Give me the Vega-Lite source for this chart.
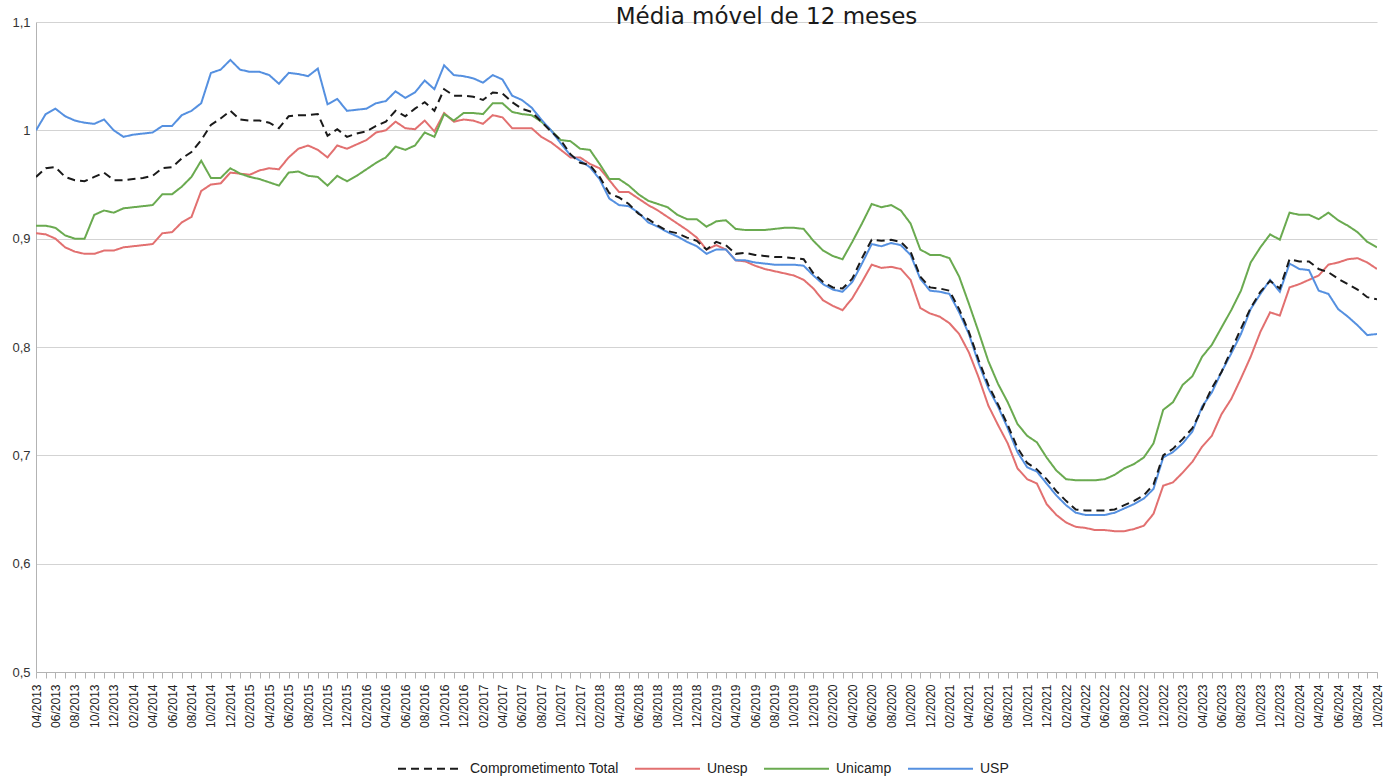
{
"$schema":"https://vega.github.io/schema/vega-lite/v6.json",
"width":1341,"height":650,
"autosize":{"type":"none"},
"padding":{"left":36,"top":22,"right":7,"bottom":106},
"background":"white",
"title":{"text":"Média móvel de 12 meses","font":"DejaVu Sans","fontSize":23,"fontWeight":"normal","color":"#1a1a1a","anchor":"middle","offset":0,"baseline":"alphabetic","dx":60,"dy":31},
"config":{"view":{"stroke":null}},
"data":{"values":[
{"m":"04/2013","Comprometimento Total":0.957,"Unesp":0.905,"Unicamp":0.912,"USP":1.000},
{"m":"05/2013","Comprometimento Total":0.965,"Unesp":0.904,"Unicamp":0.912,"USP":1.015},
{"m":"06/2013","Comprometimento Total":0.966,"Unesp":0.900,"Unicamp":0.910,"USP":1.020},
{"m":"07/2013","Comprometimento Total":0.957,"Unesp":0.892,"Unicamp":0.903,"USP":1.013},
{"m":"08/2013","Comprometimento Total":0.954,"Unesp":0.888,"Unicamp":0.900,"USP":1.009},
{"m":"09/2013","Comprometimento Total":0.953,"Unesp":0.886,"Unicamp":0.900,"USP":1.007},
{"m":"10/2013","Comprometimento Total":0.957,"Unesp":0.886,"Unicamp":0.922,"USP":1.006},
{"m":"11/2013","Comprometimento Total":0.961,"Unesp":0.889,"Unicamp":0.926,"USP":1.010},
{"m":"12/2013","Comprometimento Total":0.954,"Unesp":0.889,"Unicamp":0.924,"USP":1.000},
{"m":"01/2014","Comprometimento Total":0.954,"Unesp":0.892,"Unicamp":0.928,"USP":0.994},
{"m":"02/2014","Comprometimento Total":0.955,"Unesp":0.893,"Unicamp":0.929,"USP":0.996},
{"m":"03/2014","Comprometimento Total":0.956,"Unesp":0.894,"Unicamp":0.930,"USP":0.997},
{"m":"04/2014","Comprometimento Total":0.958,"Unesp":0.895,"Unicamp":0.931,"USP":0.998},
{"m":"05/2014","Comprometimento Total":0.965,"Unesp":0.905,"Unicamp":0.941,"USP":1.004},
{"m":"06/2014","Comprometimento Total":0.966,"Unesp":0.906,"Unicamp":0.941,"USP":1.004},
{"m":"07/2014","Comprometimento Total":0.974,"Unesp":0.915,"Unicamp":0.948,"USP":1.014},
{"m":"08/2014","Comprometimento Total":0.980,"Unesp":0.920,"Unicamp":0.957,"USP":1.018},
{"m":"09/2014","Comprometimento Total":0.991,"Unesp":0.944,"Unicamp":0.972,"USP":1.025},
{"m":"10/2014","Comprometimento Total":1.005,"Unesp":0.950,"Unicamp":0.956,"USP":1.053},
{"m":"11/2014","Comprometimento Total":1.011,"Unesp":0.951,"Unicamp":0.956,"USP":1.056},
{"m":"12/2014","Comprometimento Total":1.018,"Unesp":0.961,"Unicamp":0.965,"USP":1.065},
{"m":"01/2015","Comprometimento Total":1.010,"Unesp":0.960,"Unicamp":0.960,"USP":1.056},
{"m":"02/2015","Comprometimento Total":1.009,"Unesp":0.959,"Unicamp":0.957,"USP":1.054},
{"m":"03/2015","Comprometimento Total":1.009,"Unesp":0.963,"Unicamp":0.955,"USP":1.054},
{"m":"04/2015","Comprometimento Total":1.007,"Unesp":0.965,"Unicamp":0.952,"USP":1.051},
{"m":"05/2015","Comprometimento Total":1.002,"Unesp":0.964,"Unicamp":0.949,"USP":1.043},
{"m":"06/2015","Comprometimento Total":1.013,"Unesp":0.975,"Unicamp":0.961,"USP":1.053},
{"m":"07/2015","Comprometimento Total":1.014,"Unesp":0.983,"Unicamp":0.962,"USP":1.052},
{"m":"08/2015","Comprometimento Total":1.014,"Unesp":0.986,"Unicamp":0.958,"USP":1.050},
{"m":"09/2015","Comprometimento Total":1.015,"Unesp":0.982,"Unicamp":0.957,"USP":1.057},
{"m":"10/2015","Comprometimento Total":0.995,"Unesp":0.975,"Unicamp":0.949,"USP":1.024},
{"m":"11/2015","Comprometimento Total":1.001,"Unesp":0.986,"Unicamp":0.958,"USP":1.029},
{"m":"12/2015","Comprometimento Total":0.994,"Unesp":0.983,"Unicamp":0.953,"USP":1.018},
{"m":"01/2016","Comprometimento Total":0.997,"Unesp":0.987,"Unicamp":0.958,"USP":1.019},
{"m":"02/2016","Comprometimento Total":0.999,"Unesp":0.991,"Unicamp":0.964,"USP":1.020},
{"m":"03/2016","Comprometimento Total":1.004,"Unesp":0.998,"Unicamp":0.970,"USP":1.025},
{"m":"04/2016","Comprometimento Total":1.008,"Unesp":1.000,"Unicamp":0.975,"USP":1.027},
{"m":"05/2016","Comprometimento Total":1.018,"Unesp":1.008,"Unicamp":0.985,"USP":1.036},
{"m":"06/2016","Comprometimento Total":1.013,"Unesp":1.002,"Unicamp":0.982,"USP":1.030},
{"m":"07/2016","Comprometimento Total":1.020,"Unesp":1.001,"Unicamp":0.986,"USP":1.035},
{"m":"08/2016","Comprometimento Total":1.026,"Unesp":1.009,"Unicamp":0.998,"USP":1.046},
{"m":"09/2016","Comprometimento Total":1.018,"Unesp":0.999,"Unicamp":0.994,"USP":1.038},
{"m":"10/2016","Comprometimento Total":1.038,"Unesp":1.016,"Unicamp":1.015,"USP":1.060},
{"m":"11/2016","Comprometimento Total":1.032,"Unesp":1.008,"Unicamp":1.009,"USP":1.051},
{"m":"12/2016","Comprometimento Total":1.032,"Unesp":1.010,"Unicamp":1.016,"USP":1.050},
{"m":"01/2017","Comprometimento Total":1.031,"Unesp":1.009,"Unicamp":1.016,"USP":1.048},
{"m":"02/2017","Comprometimento Total":1.028,"Unesp":1.006,"Unicamp":1.015,"USP":1.044},
{"m":"03/2017","Comprometimento Total":1.035,"Unesp":1.014,"Unicamp":1.025,"USP":1.051},
{"m":"04/2017","Comprometimento Total":1.034,"Unesp":1.012,"Unicamp":1.025,"USP":1.047},
{"m":"05/2017","Comprometimento Total":1.026,"Unesp":1.002,"Unicamp":1.017,"USP":1.032},
{"m":"06/2017","Comprometimento Total":1.020,"Unesp":1.002,"Unicamp":1.015,"USP":1.028},
{"m":"07/2017","Comprometimento Total":1.017,"Unesp":1.002,"Unicamp":1.014,"USP":1.021},
{"m":"08/2017","Comprometimento Total":1.008,"Unesp":0.994,"Unicamp":1.008,"USP":1.010},
{"m":"09/2017","Comprometimento Total":0.999,"Unesp":0.989,"Unicamp":1.000,"USP":1.000},
{"m":"10/2017","Comprometimento Total":0.991,"Unesp":0.982,"Unicamp":0.991,"USP":0.988},
{"m":"11/2017","Comprometimento Total":0.978,"Unesp":0.975,"Unicamp":0.990,"USP":0.977},
{"m":"12/2017","Comprometimento Total":0.970,"Unesp":0.975,"Unicamp":0.983,"USP":0.972},
{"m":"01/2018","Comprometimento Total":0.968,"Unesp":0.969,"Unicamp":0.982,"USP":0.966},
{"m":"02/2018","Comprometimento Total":0.957,"Unesp":0.965,"Unicamp":0.969,"USP":0.955},
{"m":"03/2018","Comprometimento Total":0.942,"Unesp":0.954,"Unicamp":0.955,"USP":0.937},
{"m":"04/2018","Comprometimento Total":0.938,"Unesp":0.943,"Unicamp":0.955,"USP":0.931},
{"m":"05/2018","Comprometimento Total":0.932,"Unesp":0.943,"Unicamp":0.949,"USP":0.930},
{"m":"06/2018","Comprometimento Total":0.923,"Unesp":0.937,"Unicamp":0.941,"USP":0.924},
{"m":"07/2018","Comprometimento Total":0.918,"Unesp":0.931,"Unicamp":0.935,"USP":0.915},
{"m":"08/2018","Comprometimento Total":0.912,"Unesp":0.926,"Unicamp":0.932,"USP":0.911},
{"m":"09/2018","Comprometimento Total":0.907,"Unesp":0.920,"Unicamp":0.929,"USP":0.906},
{"m":"10/2018","Comprometimento Total":0.905,"Unesp":0.914,"Unicamp":0.922,"USP":0.902},
{"m":"11/2018","Comprometimento Total":0.901,"Unesp":0.908,"Unicamp":0.918,"USP":0.897},
{"m":"12/2018","Comprometimento Total":0.898,"Unesp":0.901,"Unicamp":0.918,"USP":0.893},
{"m":"01/2019","Comprometimento Total":0.890,"Unesp":0.890,"Unicamp":0.911,"USP":0.886},
{"m":"02/2019","Comprometimento Total":0.897,"Unesp":0.894,"Unicamp":0.916,"USP":0.890},
{"m":"03/2019","Comprometimento Total":0.894,"Unesp":0.890,"Unicamp":0.917,"USP":0.890},
{"m":"04/2019","Comprometimento Total":0.886,"Unesp":0.880,"Unicamp":0.909,"USP":0.880},
{"m":"05/2019","Comprometimento Total":0.887,"Unesp":0.879,"Unicamp":0.908,"USP":0.880},
{"m":"06/2019","Comprometimento Total":0.885,"Unesp":0.875,"Unicamp":0.908,"USP":0.878},
{"m":"07/2019","Comprometimento Total":0.884,"Unesp":0.872,"Unicamp":0.908,"USP":0.877},
{"m":"08/2019","Comprometimento Total":0.883,"Unesp":0.870,"Unicamp":0.909,"USP":0.876},
{"m":"09/2019","Comprometimento Total":0.883,"Unesp":0.868,"Unicamp":0.910,"USP":0.876},
{"m":"10/2019","Comprometimento Total":0.882,"Unesp":0.866,"Unicamp":0.910,"USP":0.876},
{"m":"11/2019","Comprometimento Total":0.881,"Unesp":0.862,"Unicamp":0.909,"USP":0.875},
{"m":"12/2019","Comprometimento Total":0.868,"Unesp":0.854,"Unicamp":0.898,"USP":0.866},
{"m":"01/2020","Comprometimento Total":0.860,"Unesp":0.843,"Unicamp":0.889,"USP":0.858},
{"m":"02/2020","Comprometimento Total":0.855,"Unesp":0.838,"Unicamp":0.884,"USP":0.853},
{"m":"03/2020","Comprometimento Total":0.854,"Unesp":0.834,"Unicamp":0.881,"USP":0.851},
{"m":"04/2020","Comprometimento Total":0.863,"Unesp":0.845,"Unicamp":0.897,"USP":0.860},
{"m":"05/2020","Comprometimento Total":0.882,"Unesp":0.860,"Unicamp":0.914,"USP":0.877},
{"m":"06/2020","Comprometimento Total":0.899,"Unesp":0.876,"Unicamp":0.932,"USP":0.895},
{"m":"07/2020","Comprometimento Total":0.898,"Unesp":0.873,"Unicamp":0.929,"USP":0.893},
{"m":"08/2020","Comprometimento Total":0.899,"Unesp":0.874,"Unicamp":0.931,"USP":0.896},
{"m":"09/2020","Comprometimento Total":0.897,"Unesp":0.872,"Unicamp":0.926,"USP":0.894},
{"m":"10/2020","Comprometimento Total":0.888,"Unesp":0.862,"Unicamp":0.914,"USP":0.885},
{"m":"11/2020","Comprometimento Total":0.865,"Unesp":0.836,"Unicamp":0.890,"USP":0.863},
{"m":"12/2020","Comprometimento Total":0.855,"Unesp":0.831,"Unicamp":0.885,"USP":0.852},
{"m":"01/2021","Comprometimento Total":0.854,"Unesp":0.828,"Unicamp":0.885,"USP":0.851},
{"m":"02/2021","Comprometimento Total":0.852,"Unesp":0.822,"Unicamp":0.882,"USP":0.849},
{"m":"03/2021","Comprometimento Total":0.835,"Unesp":0.812,"Unicamp":0.865,"USP":0.832},
{"m":"04/2021","Comprometimento Total":0.814,"Unesp":0.795,"Unicamp":0.840,"USP":0.812},
{"m":"05/2021","Comprometimento Total":0.788,"Unesp":0.772,"Unicamp":0.814,"USP":0.785},
{"m":"06/2021","Comprometimento Total":0.765,"Unesp":0.746,"Unicamp":0.787,"USP":0.762},
{"m":"07/2021","Comprometimento Total":0.747,"Unesp":0.728,"Unicamp":0.766,"USP":0.745},
{"m":"08/2021","Comprometimento Total":0.728,"Unesp":0.711,"Unicamp":0.749,"USP":0.725},
{"m":"09/2021","Comprometimento Total":0.707,"Unesp":0.688,"Unicamp":0.729,"USP":0.703},
{"m":"10/2021","Comprometimento Total":0.693,"Unesp":0.678,"Unicamp":0.718,"USP":0.689},
{"m":"11/2021","Comprometimento Total":0.687,"Unesp":0.674,"Unicamp":0.712,"USP":0.685},
{"m":"12/2021","Comprometimento Total":0.678,"Unesp":0.655,"Unicamp":0.698,"USP":0.674},
{"m":"01/2022","Comprometimento Total":0.667,"Unesp":0.645,"Unicamp":0.686,"USP":0.663},
{"m":"02/2022","Comprometimento Total":0.658,"Unesp":0.638,"Unicamp":0.678,"USP":0.654},
{"m":"03/2022","Comprometimento Total":0.650,"Unesp":0.634,"Unicamp":0.677,"USP":0.647},
{"m":"04/2022","Comprometimento Total":0.649,"Unesp":0.633,"Unicamp":0.677,"USP":0.645},
{"m":"05/2022","Comprometimento Total":0.649,"Unesp":0.631,"Unicamp":0.677,"USP":0.645},
{"m":"06/2022","Comprometimento Total":0.649,"Unesp":0.631,"Unicamp":0.678,"USP":0.645},
{"m":"07/2022","Comprometimento Total":0.650,"Unesp":0.630,"Unicamp":0.682,"USP":0.647},
{"m":"08/2022","Comprometimento Total":0.654,"Unesp":0.630,"Unicamp":0.688,"USP":0.651},
{"m":"09/2022","Comprometimento Total":0.658,"Unesp":0.632,"Unicamp":0.692,"USP":0.655},
{"m":"10/2022","Comprometimento Total":0.663,"Unesp":0.635,"Unicamp":0.698,"USP":0.660},
{"m":"11/2022","Comprometimento Total":0.673,"Unesp":0.646,"Unicamp":0.711,"USP":0.669},
{"m":"12/2022","Comprometimento Total":0.700,"Unesp":0.672,"Unicamp":0.742,"USP":0.698},
{"m":"01/2023","Comprometimento Total":0.706,"Unesp":0.675,"Unicamp":0.749,"USP":0.703},
{"m":"02/2023","Comprometimento Total":0.715,"Unesp":0.684,"Unicamp":0.765,"USP":0.711},
{"m":"03/2023","Comprometimento Total":0.725,"Unesp":0.694,"Unicamp":0.773,"USP":0.722},
{"m":"04/2023","Comprometimento Total":0.743,"Unesp":0.708,"Unicamp":0.791,"USP":0.745},
{"m":"05/2023","Comprometimento Total":0.762,"Unesp":0.718,"Unicamp":0.802,"USP":0.758},
{"m":"06/2023","Comprometimento Total":0.777,"Unesp":0.738,"Unicamp":0.818,"USP":0.777},
{"m":"07/2023","Comprometimento Total":0.797,"Unesp":0.752,"Unicamp":0.834,"USP":0.794},
{"m":"08/2023","Comprometimento Total":0.817,"Unesp":0.771,"Unicamp":0.852,"USP":0.812},
{"m":"09/2023","Comprometimento Total":0.836,"Unesp":0.791,"Unicamp":0.878,"USP":0.835},
{"m":"10/2023","Comprometimento Total":0.851,"Unesp":0.814,"Unicamp":0.892,"USP":0.849},
{"m":"11/2023","Comprometimento Total":0.861,"Unesp":0.832,"Unicamp":0.904,"USP":0.862},
{"m":"12/2023","Comprometimento Total":0.854,"Unesp":0.829,"Unicamp":0.899,"USP":0.851},
{"m":"01/2024","Comprometimento Total":0.881,"Unesp":0.855,"Unicamp":0.924,"USP":0.877},
{"m":"02/2024","Comprometimento Total":0.879,"Unesp":0.858,"Unicamp":0.922,"USP":0.872},
{"m":"03/2024","Comprometimento Total":0.879,"Unesp":0.862,"Unicamp":0.922,"USP":0.871},
{"m":"04/2024","Comprometimento Total":0.872,"Unesp":0.866,"Unicamp":0.918,"USP":0.852},
{"m":"05/2024","Comprometimento Total":0.869,"Unesp":0.876,"Unicamp":0.924,"USP":0.849},
{"m":"06/2024","Comprometimento Total":0.863,"Unesp":0.878,"Unicamp":0.917,"USP":0.835},
{"m":"07/2024","Comprometimento Total":0.858,"Unesp":0.881,"Unicamp":0.912,"USP":0.828},
{"m":"08/2024","Comprometimento Total":0.853,"Unesp":0.882,"Unicamp":0.906,"USP":0.820},
{"m":"09/2024","Comprometimento Total":0.846,"Unesp":0.878,"Unicamp":0.897,"USP":0.811},
{"m":"10/2024","Comprometimento Total":0.844,"Unesp":0.872,"Unicamp":0.892,"USP":0.812}
]},
"transform":[{"fold":["Unesp","Unicamp","USP","Comprometimento Total"],"as":["serie","valor"]}],
"mark":{"type":"line","strokeWidth":2,"clip":true},
"encoding":{
"x":{"field":"m","type":"ordinal","sort":null,"scale":{"type":"point","padding":0},
"axis":{"title":null,"labelAngle":270,"labelPadding":6,"labelFont":"Liberation Sans","labelFontSize":12,"labelColor":"#222","labelOverlap":false,"labelExpr":"toNumber(substring(datum.label,0,2)) % 2 == 0 ? datum.label : ''","domainColor":"#b3b3b3","tickColor":"#b3b3b3","tickSize":6,"grid":false}},
"y":{"field":"valor","type":"quantitative","scale":{"domain":[0.5,1.1],"nice":false,"zero":false},
"axis":{"title":null,"values":[0.5,0.6,0.7,0.8,0.9,1.0,1.1],"labelExpr":"replace(format(datum.value,'.1~f'),'.',',')","labelFont":"Liberation Sans","labelFontSize":13,"labelColor":"#333","labelPadding":6,"tickSize":0,"domainColor":"#b3b3b3","gridColor":"#d3d3d3","grid":true}},
"color":{"field":"serie","type":"nominal","scale":{"domain":["Comprometimento Total","Unesp","Unicamp","USP"],"range":["#1a1a1a","#e27070","#6aaa50","#5590e0"]},
"legend":{"title":null,"orient":"none","legendX":361,"legendY":713,"direction":"horizontal","symbolType":"stroke","symbolSize":4225,"symbolStrokeWidth":2,"labelFont":"Liberation Sans","labelFontSize":14,"labelColor":"#222","columnPadding":12,"labelOffset":6}},
"strokeDash":{"field":"serie","type":"nominal","scale":{"domain":["Comprometimento Total","Unesp","Unicamp","USP"],"range":[[8,5],[1,0],[1,0],[1,0]]},
"legend":{"title":null,"orient":"none","legendX":361,"legendY":713,"direction":"horizontal","symbolType":"stroke","symbolSize":4225,"symbolStrokeWidth":2,"labelFont":"Liberation Sans","labelFontSize":14,"labelColor":"#222","columnPadding":12,"labelOffset":6}}
}
}
